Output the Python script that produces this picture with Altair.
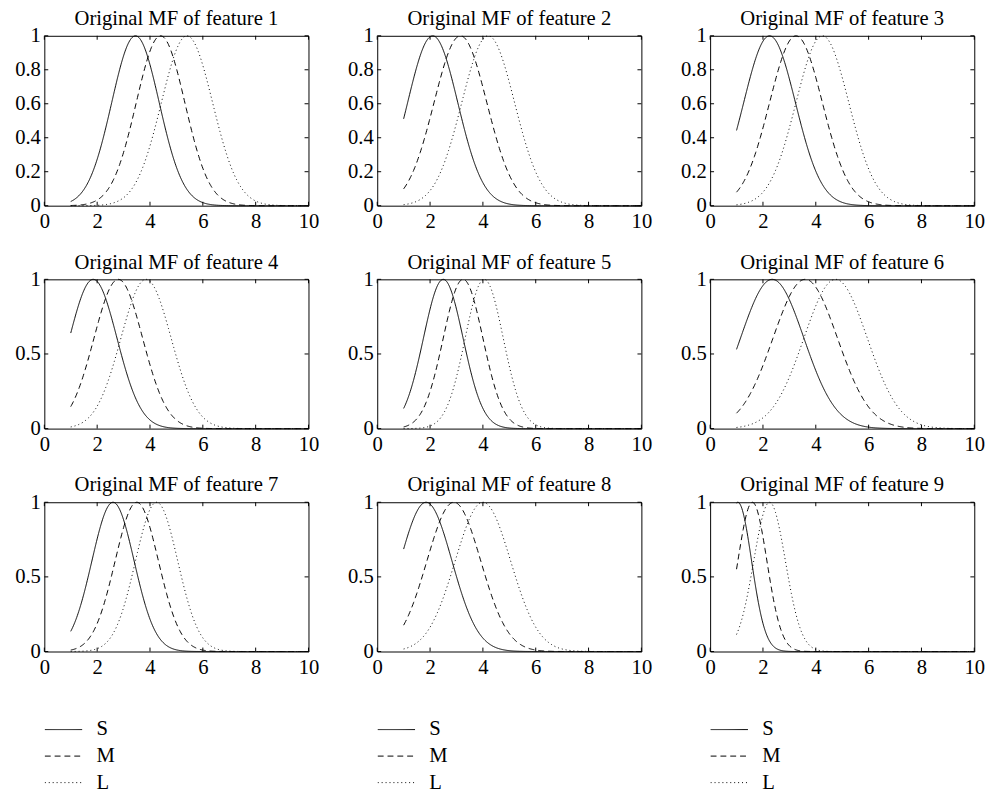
import altair as alt
import numpy as np
import pandas as pd

# ---- data: Gaussian membership functions (centre, width) ----
feature_ids = [1, 2, 3, 4, 5, 6, 7, 8, 9]
set_names = ["S", "M", "L"]
centre_S = [3.45, 2.10, 2.25, 1.85, 2.50, 2.35, 2.60, 1.85, 1.05]
centre_M = [4.40, 3.15, 3.25, 2.80, 3.25, 3.60, 3.50, 2.90, 1.60]
centre_L = [5.40, 4.20, 4.25, 3.85, 4.05, 4.75, 4.25, 4.00, 2.25]
sigma_S = [0.90, 0.95, 0.98, 0.90, 0.75, 1.20, 0.80, 0.98, 0.52]
sigma_M = [0.92, 1.00, 1.00, 0.92, 0.75, 1.22, 0.82, 1.02, 0.55]
sigma_L = [0.97, 1.00, 1.00, 0.95, 0.72, 1.20, 0.80, 1.05, 0.60]
x_first, x_last = 1, 10
x_ticks = [0, 2, 4, 6, 8, 10]
y_ticks_row1 = [0, 0.2, 0.4, 0.6, 0.8, 1]
y_ticks_rows23 = [0, 0.5, 1]

FONT = "Liberation Serif"
FS = 21
W = 269
H1 = 173
H = 152
dash_range = [[1, 0], [6, 4], [1, 3]]

centres = {"S": centre_S, "M": centre_M, "L": centre_L}
sigmas = {"S": sigma_S, "M": sigma_M, "L": sigma_L}
xs = np.linspace(x_first, x_last, 361)


def panel(k, height, yticks, show_legend):
    frames = []
    for name in set_names:
        c, s = centres[name][k], sigmas[name][k]
        frames.append(pd.DataFrame({"x": xs, "mu": np.exp(-(xs - c) ** 2 / (2 * s * s)), "set": name}))
    df = pd.concat(frames, ignore_index=True)

    if show_legend:
        legend = alt.Legend(
            title=None, orient="none", legendX=0, legendY=height + 69,
            direction="vertical", symbolType="stroke", symbolSize=1444,
            symbolStrokeColor="black", symbolStrokeWidth=1,
            labelFont=FONT, labelFontSize=FS, labelColor="black",
            labelOffset=14, rowPadding=5, clipHeight=21, padding=0,
        )
    else:
        legend = None

    xscale = alt.Scale(domain=[0, 10], nice=False, zero=False)
    yscale = alt.Scale(domain=[0, 1], nice=False)

    lines = alt.Chart(df).mark_line(color="black", strokeWidth=1).encode(
        x=alt.X("x:Q", scale=xscale, title=None,
                axis=alt.Axis(values=x_ticks, tickCount=len(x_ticks), format="d",
                              labelFlush=False, tickSize=0, labelPadding=5,
                              domain=False, grid=False)),
        y=alt.Y("mu:Q", scale=yscale, title=None,
                axis=alt.Axis(values=yticks, tickCount=len(yticks), format="~g", tickSize=0,
                              labelPadding=4, labelOverlap=False, labelFlush=False,
                              domain=False, grid=False)),
        strokeDash=alt.StrokeDash("set:N", scale=alt.Scale(domain=set_names, range=dash_range),
                                  legend=legend),
    )

    xt = pd.DataFrame({"x": x_ticks})
    yt = pd.DataFrame({"mu": yticks})
    tick_bottom = alt.Chart(xt).mark_rule(color="black", strokeWidth=1).encode(
        x=alt.X("x:Q", title=None), y=alt.value(height), y2=alt.value(height - 4))
    tick_top = alt.Chart(xt).mark_rule(color="black", strokeWidth=1).encode(
        x=alt.X("x:Q", title=None), y=alt.value(0), y2=alt.value(4))
    tick_left = alt.Chart(yt).mark_rule(color="black", strokeWidth=1).encode(
        y=alt.Y("mu:Q", title=None), x=alt.value(0), x2=alt.value(4))
    tick_right = alt.Chart(yt).mark_rule(color="black", strokeWidth=1).encode(
        y=alt.Y("mu:Q", title=None), x=alt.value(W - 4), x2=alt.value(W))

    return alt.layer(lines, tick_bottom, tick_top, tick_left, tick_right).properties(
        width=W, height=height,
        title=alt.Title(f"Original MF of feature {feature_ids[k]}", font=FONT, fontSize=FS,
                        fontWeight="normal", color="black", offset=-4, anchor="middle",
                        frame="group"),
    )


rows = []
for r in range(3):
    h = H1 if r == 0 else H
    yt = y_ticks_row1 if r == 0 else y_ticks_rows23
    row = alt.hconcat(*[panel(3 * r + c, h, yt, r == 2) for c in range(3)], spacing=28)
    row = row.resolve_scale(strokeDash="independent").resolve_legend(strokeDash="independent")
    rows.append(row)

chart = alt.vconcat(*rows, spacing=19).resolve_scale(strokeDash="independent").resolve_legend(
    strokeDash="independent"
).properties(
    padding={"left": 6, "top": -8, "right": 5, "bottom": 5},
    background="white",
).configure_view(
    stroke="black", strokeWidth=1
).configure_axis(
    labelFont=FONT, labelFontSize=FS, labelColor="black", labelOverlap=False
)

chart.save("out.html", embed_options={"renderer": "svg", "actions": False})
